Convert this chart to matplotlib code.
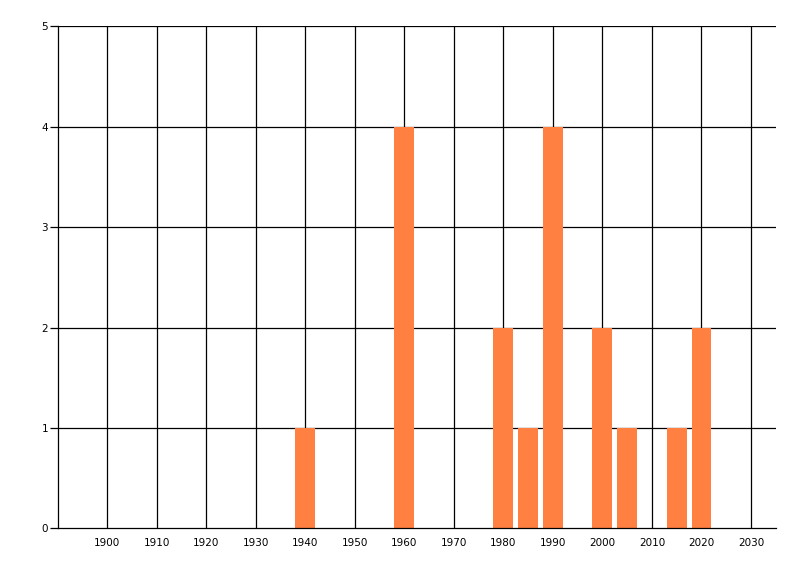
import matplotlib
matplotlib.use('Agg')
import matplotlib.pyplot as plt

# data
years = [1940, 1960, 1980, 1985, 1990, 2000, 2005, 2015, 2020]
counts = [1, 4, 2, 1, 4, 2, 1, 1, 2]
x_ticks = list(range(1900, 2031, 10))
y_ticks = [0, 1, 2, 3, 4, 5]

fig = plt.figure(figsize=(8, 5.76), dpi=100)
ax = fig.add_axes([57.7 / 800, (576 - 528.3) / 576, (775.7 - 57.7) / 800, (528.3 - 26.3) / 576])

ax.set_xlim(1890, 2035)
ax.set_ylim(0, 5)

# grid first, bars on top
for x in x_ticks:
    ax.axvline(x, color='black', lw=0.9, zorder=1)
for y in y_ticks[1:]:
    ax.axhline(y, color='black', lw=0.9, zorder=1)

ax.bar(years, counts, width=4, color='#FF8040', zorder=2)

ax.set_xticks(x_ticks)
ax.set_yticks(y_ticks)
ax.tick_params(axis='x', length=0, pad=7, labelsize=7.5)
ax.tick_params(axis='y', length=6, width=0.9, pad=1, labelsize=7.5)

for side in ['top', 'right']:
    ax.spines[side].set_visible(False)
for side in ['left', 'bottom']:
    ax.spines[side].set_linewidth(0.9)
    ax.spines[side].set_zorder(3)

plt.savefig('out.png', dpi=100)
plt.close('all')
